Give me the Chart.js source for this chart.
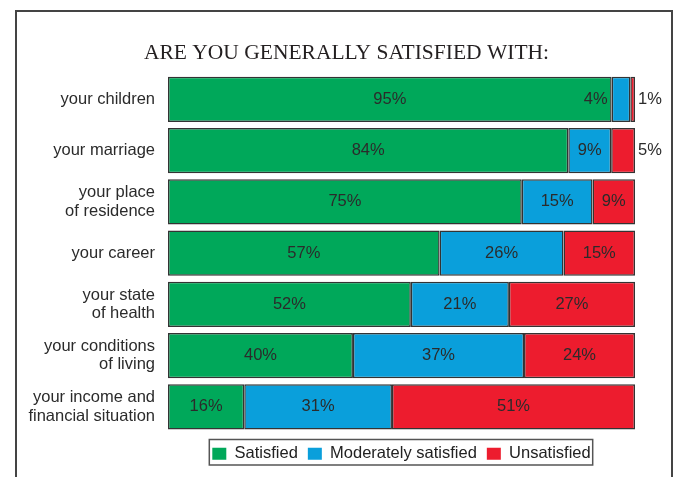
<!DOCTYPE html>
<html>
<head>
<meta charset="utf-8">
<script src="https://cdn.jsdelivr.net/npm/chart.js@4/dist/chart.umd.min.js"></script>
<style>
  html, body { margin: 0; padding: 0; background: #fff; }
  #wrap { position: relative; width: 678px; height: 477px; overflow: hidden; }
  #frame {
    position: absolute; left: 15px; top: 10px; width: 658px; height: 480px;
    border: 2px solid #444; border-bottom: none; box-sizing: border-box;
  }
  #chart { position: absolute; left: 0; top: 0; }
</style>
</head>
<body>
<div id="wrap">
  <div id="frame"></div>
  <canvas id="chart" width="678" height="477"></canvas>
</div>
<script>
// categories and values (percent, as printed)
const categories = [
    'your children',
    'your marriage',
    ['your place', 'of residence'],
    'your career',
    ['your state', 'of health'],
    ['your conditions', 'of living'],
    ['your income and', 'financial situation']
];
const satisfied = [95, 84, 75, 57, 52, 40, 16];
const moderately = [4, 9, 15, 26, 21, 37, 31];
const unsatisfied = [1, 5, 9, 15, 27, 24, 51];
const seriesNames = ['Satisfied', 'Moderately satisfied', 'Unsatisfied'];

// bars are drawn as share of the row total (printed numbers don't always add to 100)
const totals = satisfied.map((v, i) => v + moderately[i] + unsatisfied[i]);
const share = arr => arr.map((v, i) => v / totals[i] * 100);

const txtFont = '"Liberation Sans", Arial, sans-serif';

// draws the % values on / next to each segment
const valueLabels = {
    id: 'valueLabels',
    afterDatasetsDraw(chart) {
        const ctx = chart.ctx;
        ctx.save();
        ctx.font = '16.5px ' + txtFont;
        ctx.fillStyle = '#2b2b2b';
        ctx.textBaseline = 'middle';
        chart.data.datasets.forEach((ds, di) => {
            const meta = chart.getDatasetMeta(di);
            meta.data.forEach((bar, i) => {
                const text = ds.raw[i] + '%';
                const w = ctx.measureText(text).width;
                const left = Math.min(bar.x, bar.base);
                const right = Math.max(bar.x, bar.base);
                if (right - left >= w + 6) {
                    ctx.textAlign = 'center';
                    ctx.fillText(text, (left + right) / 2, bar.y);
                } else if (di === chart.data.datasets.length - 1) {
                    ctx.textAlign = 'left';
                    ctx.fillText(text, right + 3, bar.y);
                } else {
                    ctx.textAlign = 'right';
                    ctx.fillText(text, left - 4, bar.y);
                }
            });
        });
        ctx.restore();
    }
};

// title centred in the frame, legend centred under the bars
const placeBlocks = {
    id: 'placeBlocks',
    afterLayout(chart) {
        const ca = chart.chartArea;
        if (chart.titleBlock) {
            chart.titleBlock.left = 20;
            chart.titleBlock.right = 673;
            chart.titleBlock.width = 653;
        }
        if (chart.legend) {
            chart.legend.left = ca.left;
            chart.legend.right = ca.right;
            chart.legend.width = ca.right - ca.left;
            chart.legend.top += 3;
            chart.legend.bottom += 3;
        }
    },
    // box round the legend
    afterDraw(chart) {
        const boxes = chart.legend && chart.legend.legendHitBoxes;
        if (!boxes || !boxes.length) return;
        const ctx = chart.ctx;
        const x0 = boxes[0].left - 3;
        const last = boxes[boxes.length - 1];
        const x1 = last.left + last.width + 2;
        const y0 = boxes[0].top - 6;
        const y1 = boxes[0].top + boxes[0].height + 3;
        ctx.save();
        ctx.strokeStyle = '#555';
        ctx.lineWidth = 1.5;
        ctx.strokeRect(x0, y0, x1 - x0, y1 - y0);
        ctx.restore();
    }
};

const colors = ['#00A85A', '#0A9FDB', '#ED1C2E'];
const raws = [satisfied, moderately, unsatisfied];

new Chart(document.getElementById('chart'), {
    type: 'bar',
    data: {
        labels: categories,
        datasets: raws.map((arr, k) => ({
            label: seriesNames[k],
            data: share(arr),
            raw: arr,
            backgroundColor: colors[k],
            borderColor: '#333',
            borderWidth: 1.5,
            borderSkipped: false,
            barPercentage: 0.88,
            categoryPercentage: 1
        }))
    },
    options: {
        indexAxis: 'y',
        responsive: false,
        animation: false,
        layout: { padding: { left: 0, right: 43, top: 0, bottom: 8 } },
        scales: {
            x: {
                stacked: true, min: 0, max: 100, display: false
            },
            y: {
                stacked: true,
                grid: { display: false, drawTicks: false },
                border: { display: false },
                ticks: {
                    padding: 13,
                    color: '#2b2b2b',
                    font: { family: txtFont, size: 16.5, lineHeight: 1.12 }
                },
                afterFit(scale) { scale.width = 168; }
            }
        },
        plugins: {
            title: {
                display: true,
                text: 'ARE YOU GENERALLY SATISFIED WITH:',
                color: '#231f20',
                font: { family: '"Liberation Serif", "Times New Roman", serif', size: 21.5, weight: 'normal', lineHeight: 1.2 },
                padding: { top: 40, bottom: 8 }
            },
            legend: {
                position: 'bottom',
                labels: {
                    boxWidth: 14,
                    boxHeight: 12,
                    padding: 10,
                    color: '#222',
                    font: { family: txtFont, size: 16.5 },
                    generateLabels(chart) {
                        return chart.data.datasets.map((ds, i) => ({
                            text: ds.label,
                            fillStyle: ds.backgroundColor,
                            strokeStyle: ds.backgroundColor,
                            lineWidth: 0,
                            fontColor: '#222',
                            datasetIndex: i
                        }));
                    }
                }
            },
            tooltip: { enabled: false }
        }
    },
    plugins: [valueLabels, placeBlocks]
});
</script>
</body>
</html>
